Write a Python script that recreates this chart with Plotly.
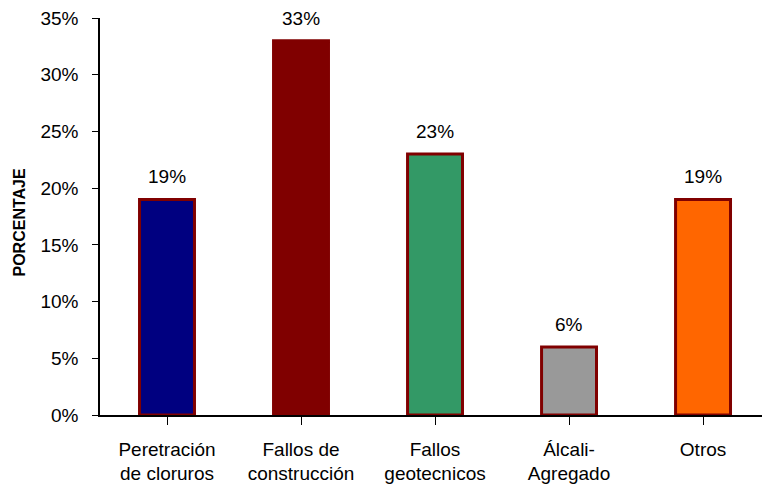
import plotly.graph_objects as go

categorias = ["Peretración<br>de cloruros", "Fallos de<br>construcción", "Fallos<br>geotecnicos",
              "Álcali-<br>Agregado", "Otros"]
porcentajes = [19, 33, 23, 6, 19]
colores = ["#000080", "#800000", "#339966", "#999999", "#FF6600"]
ticks_y = [0, 5, 10, 15, 20, 25, 30, 35]

FUENTE = "Liberation Sans, Arial, sans-serif"
TAM = 19

fig = go.Figure()
fig.add_trace(go.Bar(
    x=list(range(len(categorias))),
    y=porcentajes,
    width=0.41,
    marker=dict(color=colores, line=dict(color="#800000", width=3)),
    showlegend=False,
    hoverinfo="skip",
))

# etiquetas de valor encima de cada barra
for i, v in enumerate(porcentajes):
    fig.add_annotation(x=i, y=v, text=f"{v}%", showarrow=False, yanchor="bottom",
                       yshift=10, font=dict(family=FUENTE, size=TAM, color="#000000"))

# título del eje vertical
fig.add_annotation(xref="paper", yref="paper", x=0, y=0.5, xshift=-81, yshift=-6,
                   xanchor="center", yanchor="middle",
                   text="<b>PORCENTAJE</b>", textangle=-90, showarrow=False,
                   font=dict(family=FUENTE, size=16, color="#000000"))

fig.update_layout(
    width=762, height=488,
    margin=dict(l=100, r=0, t=18, b=73),
    paper_bgcolor="white", plot_bgcolor="white",
)
fig.update_xaxes(
    range=[-0.5, 4.44],
    tickmode="array", tickvals=list(range(len(categorias))), ticktext=categorias,
    tickson="boundaries", ticks="outside", ticklen=8, tickcolor="#000000",
    ticklabelstandoff=8,
    showline=True, linecolor="#000000", linewidth=1.5,
    showgrid=False, zeroline=False,
    tickfont=dict(family=FUENTE, size=TAM, color="#000000"),
)
fig.update_yaxes(
    range=[0, 35],
    tickmode="array", tickvals=ticks_y, ticktext=[f"{t}%" for t in ticks_y],
    ticks="outside", ticklen=6, tickcolor="#000000",
    ticklabelstandoff=10,
    showline=True, linecolor="#000000", linewidth=1.5,
    showgrid=False, zeroline=False,
    tickfont=dict(family=FUENTE, size=TAM, color="#000000"),
)

fig.write_html("out.html")
